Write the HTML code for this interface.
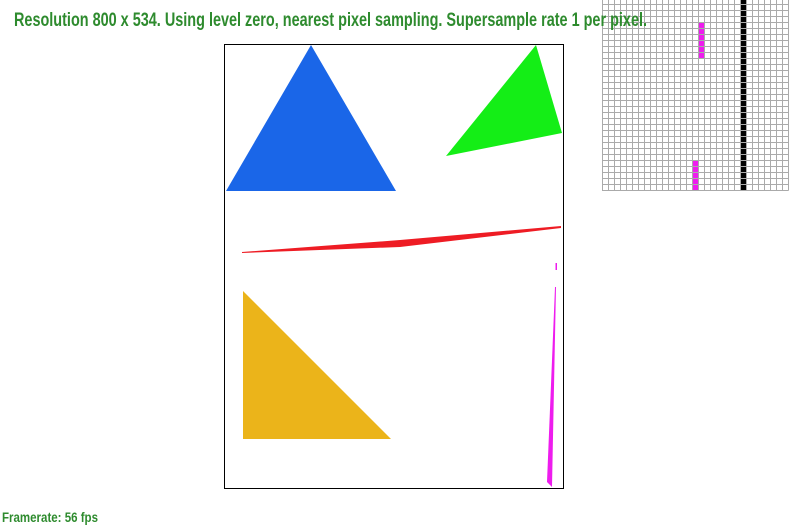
<!DOCTYPE html>
<html><head><meta charset="utf-8">
<style>
html,body{margin:0;padding:0;background:#fff;width:789px;height:525px;overflow:hidden}
svg{display:block}
text{font-family:"Liberation Sans Narrow","Liberation Sans",sans-serif;font-weight:bold;fill:#2e8b2e}
</style></head>
<body>
<svg id="s" width="789" height="525" viewBox="0 0 789 525" xmlns="http://www.w3.org/2000/svg">
  <g id="grid"></g>
  <rect x="224.5" y="44.5" width="339" height="444" fill="none" stroke="#000" stroke-width="1"/>
  <g id="shapes"></g>
  <text x="14" y="26" font-size="19" textLength="633" lengthAdjust="spacingAndGlyphs">Resolution 800 x 534. Using level zero, nearest pixel sampling. Supersample rate 1 per pixel.</text>
  <text x="2" y="522" font-size="14" textLength="96" lengthAdjust="spacingAndGlyphs">Framerate: 56 fps</text>
</svg>
<script>
const shapeNames = ["blue-triangle","green-triangle","red-sliver","magenta-sliver-top","magenta-sliver","yellow-triangle"];
const shapeColors = ["#1a66e8","#14ee16","#ee1c24","#ee1cee","#ee1cee","#ebb41a"];
const shapePoints = [
  [[226,191],[311,45],[396,191]],
  [[446,156],[536,45],[562,133]],
  [[242,252],[400,240],[561,226],[561,228],[400,247],[242,253]],
  [[555.5,263],[557,263],[557,270],[555.5,270]],
  [[555,287],[556,287],[552,487],[547,482]],
  [[243,291],[243,439],[391,439]]
];
const gridCols = 31, gridRows = 32;
const blackCols = [23];
const magentaCells = [[16,4],[16,5],[16,6],[16,7],[16,8],[16,9],[15,27],[15,28],[15,29],[15,30],[15,31]];

const NS = "http://www.w3.org/2000/svg";
const gx = 602, gy = -2, cell = 6;
const grid = document.getElementById('grid');
function cellRect(c, r, fill){
  const el = document.createElementNS(NS,'rect');
  el.setAttribute('x', gx + c*cell); el.setAttribute('y', gy + r*cell);
  el.setAttribute('width', cell); el.setAttribute('height', cell);
  el.setAttribute('fill', fill);
  return el;
}
for (const c of blackCols){
  for (let r=0;r<gridRows;r++){
    const el = cellRect(c, r, '#000');
    
    
    grid.appendChild(el);
  }
}
for (const [c,r] of magentaCells){
  const el = cellRect(c, r, '#ee1cee');
  
  
  grid.appendChild(el);
}
for (let c=0;c<=gridCols;c++){
  const l = document.createElementNS(NS,'line');
  const x = gx + c*cell + 0.5;
  l.setAttribute('x1', x); l.setAttribute('x2', x);
  l.setAttribute('y1', 0); l.setAttribute('y2', gy + gridRows*cell + 0.5);
  l.setAttribute('stroke', '#aaa'); l.setAttribute('stroke-width', 1);
  
  
  grid.appendChild(l);
}
for (let r=0;r<=gridRows;r++){
  const l = document.createElementNS(NS,'line');
  const y = gy + r*cell + 0.5;
  if (y < 0) continue;
  l.setAttribute('x1', gx); l.setAttribute('x2', gx + gridCols*cell + 0.5);
  l.setAttribute('y1', y); l.setAttribute('y2', y);
  l.setAttribute('stroke', '#aaa'); l.setAttribute('stroke-width', 1);
  
  
  grid.appendChild(l);
}
const shapes = document.getElementById('shapes');
shapePoints.forEach((pts, i) => {
  const p = document.createElementNS(NS,'polygon');
  p.setAttribute('points', pts.map(q => q.join(',')).join(' '));
  p.setAttribute('fill', shapeColors[i]);
  
  
  shapes.appendChild(p);
});
</script>
</body></html>
